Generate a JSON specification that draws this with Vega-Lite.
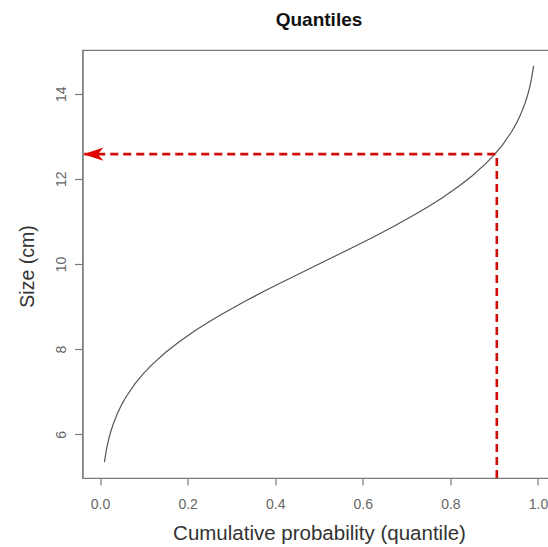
{
  "$schema": "https://vega.github.io/schema/vega-lite/v6.json",
  "autosize": "none",
  "padding": {"left": 82.5, "top": 50, "right": 0, "bottom": 69},
  "width": 473,
  "height": 428,
  "background": "white",
  "config": {
    "view": {"stroke": "#7a7a7a", "strokeWidth": 1.2},
    "font": "Liberation Sans"
  },
  "title": {
    "text": "Quantiles",
    "font": "Liberation Sans",
    "fontSize": 19,
    "fontWeight": "bold",
    "color": "#111111",
    "anchor": "middle",
    "baseline": "alphabetic",
    "offset": 5
  },
  "datasets": {
    "curve": [
      {"p": 0.01, "size": 5.347},
      {"p": 0.015, "size": 5.660},
      {"p": 0.02, "size": 5.892},
      {"p": 0.025, "size": 6.080},
      {"p": 0.03, "size": 6.238},
      {"p": 0.04, "size": 6.498},
      {"p": 0.05, "size": 6.710},
      {"p": 0.06, "size": 6.890},
      {"p": 0.08, "size": 7.190},
      {"p": 0.10, "size": 7.437},
      {"p": 0.12, "size": 7.650},
      {"p": 0.15, "size": 7.927},
      {"p": 0.18, "size": 8.169},
      {"p": 0.22, "size": 8.456},
      {"p": 0.25, "size": 8.651},
      {"p": 0.28, "size": 8.834},
      {"p": 0.33, "size": 9.120},
      {"p": 0.38, "size": 9.389},
      {"p": 0.42, "size": 9.596},
      {"p": 0.47, "size": 9.849},
      {"p": 0.50, "size": 10.000},
      {"p": 0.53, "size": 10.151},
      {"p": 0.58, "size": 10.404},
      {"p": 0.62, "size": 10.611},
      {"p": 0.67, "size": 10.880},
      {"p": 0.72, "size": 11.166},
      {"p": 0.75, "size": 11.349},
      {"p": 0.78, "size": 11.544},
      {"p": 0.82, "size": 11.831},
      {"p": 0.85, "size": 12.073},
      {"p": 0.88, "size": 12.350},
      {"p": 0.90, "size": 12.563},
      {"p": 0.92, "size": 12.810},
      {"p": 0.94, "size": 13.110},
      {"p": 0.95, "size": 13.290},
      {"p": 0.96, "size": 13.502},
      {"p": 0.97, "size": 13.762},
      {"p": 0.975, "size": 13.920},
      {"p": 0.98, "size": 14.108},
      {"p": 0.985, "size": 14.340},
      {"p": 0.99, "size": 14.653}
    ],
    "hline": [{"x1": -0.036, "x2": 0.906, "y": 12.58}],
    "vline": [{"x": 0.906, "y1": 4.975, "y2": 12.58}],
    "head": [{"x": -0.038, "y": 12.58}]
  },
  "layer": [
    {
      "data": {"name": "curve"},
      "mark": {"type": "line", "color": "#555555", "strokeWidth": 1.2},
      "encoding": {
        "x": {
          "field": "p", "type": "quantitative",
          "scale": {"domain": [-0.04, 1.04], "nice": false, "zero": false},
          "axis": {
            "title": "Cumulative probability (quantile)",
            "values": [0, 0.2, 0.4, 0.6, 0.8, 1.0],
            "format": ".1f",
            "grid": false,
            "domainColor": "#7a7a7a",
            "domainWidth": 1.2,
            "tickColor": "#7a7a7a",
            "tickWidth": 1.2,
            "tickSize": 7,
            "labelFont": "Liberation Sans",
            "labelFontSize": 14,
            "labelColor": "#666666",
            "labelPadding": 12,
            "labelFlush": false,
            "labelOverlap": false,
            "titleFont": "Liberation Sans",
            "titleFontSize": 20.5,
            "titleFontWeight": "normal",
            "titleColor": "#333333",
            "titleBaseline": "alphabetic",
            "titleAnchor": "middle",
            "titleY": 61
          }
        },
        "y": {
          "field": "size", "type": "quantitative",
          "scale": {"domain": [4.975, 15.025], "nice": false, "zero": false},
          "axis": {
            "title": "Size (cm)",
            "values": [6, 8, 10, 12, 14],
            "grid": false,
            "domainColor": "#7a7a7a",
            "domainWidth": 1.2,
            "tickColor": "#7a7a7a",
            "tickWidth": 1.2,
            "tickSize": 8,
            "labelFont": "Liberation Sans",
            "labelFontSize": 14,
            "labelColor": "#666666",
            "labelAngle": -90,
            "labelAlign": "center",
            "labelBaseline": "bottom",
            "labelPadding": 6,
            "labelFlush": false,
            "labelOverlap": false,
            "titleFont": "Liberation Sans",
            "titleFontSize": 19.5,
            "titleFontWeight": "normal",
            "titleColor": "#333333",
            "titleAngle": -90,
            "titleAlign": "center",
            "titleBaseline": "middle",
            "titleX": -55,
            "titleY": 216
          }
        }
      }
    },
    {
      "data": {"name": "hline"},
      "mark": {"type": "rule", "color": "#d10a0a", "strokeWidth": 2.6, "strokeDash": [8, 5]},
      "encoding": {
        "x": {"field": "x1", "type": "quantitative"},
        "x2": {"field": "x2"},
        "y": {"field": "y", "type": "quantitative"}
      }
    },
    {
      "data": {"name": "vline"},
      "mark": {"type": "rule", "color": "#d10a0a", "strokeWidth": 2.6, "strokeDash": [8, 5]},
      "encoding": {
        "x": {"field": "x", "type": "quantitative"},
        "y": {"field": "y1", "type": "quantitative"},
        "y2": {"field": "y2"}
      }
    },
    {
      "data": {"name": "head"},
      "mark": {"type": "point", "shape": "M0,0L1,-0.33L0.72,0L1,0.33Z", "filled": true, "color": "#e00000", "opacity": 1, "size": 1600},
      "encoding": {
        "x": {"field": "x", "type": "quantitative"},
        "y": {"field": "y", "type": "quantitative"}
      }
    }
  ]
}
